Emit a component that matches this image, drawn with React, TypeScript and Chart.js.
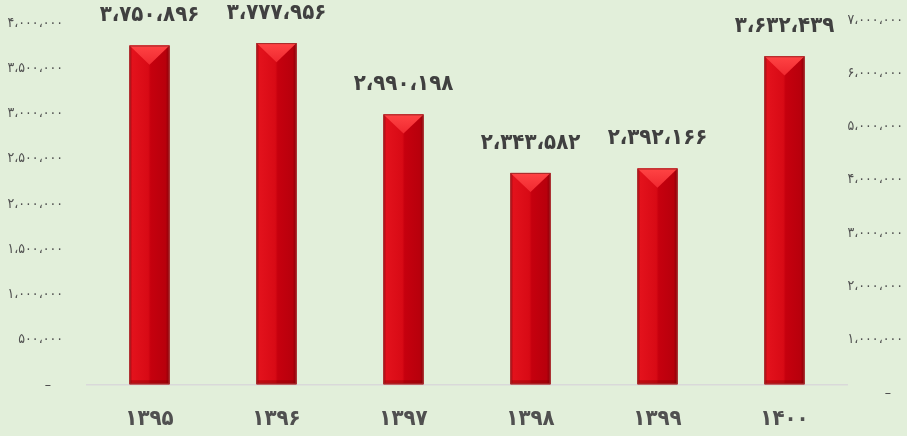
import React, { useEffect, useRef } from "react";
import { Chart, registerables } from "chart.js";

Chart.register(...registerables);

const categories = ["۱۳۹۵", "۱۳۹۶", "۱۳۹۷", "۱۳۹۸", "۱۳۹۹", "۱۴۰۰"];
const values = [3750896, 3777956, 2990198, 2343582, 2392166, 3632439];
const leftTicks = [0, 500000, 1000000, 1500000, 2000000, 2500000, 3000000, 3500000, 4000000];
const rightTicks = [0, 1000000, 2000000, 3000000, 4000000, 5000000, 6000000, 7000000];

const FA_DIGITS = "۰۱۲۳۴۵۶۷۸۹";
function fa(n: number): string {
  return Math.round(n)
    .toString()
    .replace(/\B(?=(\d{3})+(?!\d))/g, "،")
    .replace(/\d/g, (d) => FA_DIGITS[+d]);
}
function tickLabel(v: number): string {
  return v === 0 ? "–   " : fa(v);
}

const FONT = "'DejaVu Sans Condensed', 'DejaVu Sans', sans-serif";

const barStylePlugin = {
  id: "barStyle",
  afterDatasetsDraw(chart: any) {
    const ctx = chart.ctx;
    const meta = chart.getDatasetMeta(0);
    meta.data.forEach((el: any, i: number) => {
      const { x, y, base, width } = el.getProps(["x", "y", "base", "width"], true);
      const l = x - width / 2;
      const r = x + width / 2;
      const t = y;
      const b = base;
      ctx.save();
      const g = ctx.createLinearGradient(l, 0, r, 0);
      g.addColorStop(0, "#a0000c");
      g.addColorStop(0.07, "#e3121c");
      g.addColorStop(0.47, "#d80a15");
      g.addColorStop(0.53, "#c6000e");
      g.addColorStop(0.9, "#b8000c");
      g.addColorStop(1, "#8a0008");
      ctx.fillStyle = g;
      ctx.fillRect(l, t, width, b - t);
      const h = width * 0.48;
      const tg = ctx.createLinearGradient(0, t, 0, t + h);
      tg.addColorStop(0, "#ff4444");
      tg.addColorStop(1, "#f02830");
      ctx.fillStyle = tg;
      ctx.beginPath();
      ctx.moveTo(l, t);
      ctx.lineTo(r, t);
      ctx.lineTo(x, t + h);
      ctx.closePath();
      ctx.fill();
      ctx.fillStyle = "rgba(110,0,0,0.3)";
      ctx.fillRect(l, b - 4, width, 4);
      ctx.strokeStyle = "#a52a2a";
      ctx.lineWidth = 1;
      ctx.strokeRect(l + 0.5, t + 0.5, width - 1, b - t - 1);
      ctx.fillStyle = "#404040";
      ctx.font = `bold 22px ${FONT}`;
      ctx.textAlign = "center";
      ctx.textBaseline = "middle";
      ctx.fillText(fa(values[i]), x, t - 30);
      ctx.restore();
    });
  },
};

export default function App() {
  const ref = useRef<HTMLCanvasElement | null>(null);
  useEffect(() => {
    if (!ref.current) return;
    const chart = new Chart(ref.current, {
      type: "bar",
      data: {
        labels: categories,
        datasets: [
          {
            data: values,
            yAxisID: "y",
            backgroundColor: "#d00010",
            borderWidth: 0,
            barPercentage: 0.315,
            categoryPercentage: 1,
          },
        ],
      },
      options: {
        animation: false,
        responsive: true,
        maintainAspectRatio: false,
        layout: { padding: { top: 20, right: 4, left: 0, bottom: 0 } },
        plugins: { legend: { display: false }, tooltip: { enabled: false } },
        scales: {
          x: {
            grid: { display: false },
            border: { display: false },
            ticks: {
              color: "#505050",
              font: { family: FONT, size: 22, weight: "bold" },
              padding: 5,
            },
            afterFit(scale: any) {
              scale.height = 43;
              scale.paddingLeft = 0;
              scale.paddingRight = 0;
            },
          },
          y: {
            position: "left",
            min: -88398,
            max: 4033149,
            afterBuildTicks(scale: any) {
              scale.ticks = leftTicks.map((v) => ({ value: v }));
            },
            grid: {
              drawTicks: false,
              color: (c: any) => (c.tick && c.tick.value === 0 ? "#d9d9d9" : "rgba(0,0,0,0)"),
              lineWidth: 1.5,
            },
            border: { display: false },
            ticks: {
              color: "#505050",
              font: { family: FONT, size: 14 },
              padding: 23,
              callback: (v: any) => tickLabel(Number(v)),
            },
            afterFit(scale: any) {
              scale.width = 86;
              scale.paddingTop = 0;
              scale.paddingBottom = 0;
            },
          },
          y2: {
            position: "right",
            min: 0,
            max: 7000000,
            afterBuildTicks(scale: any) {
              scale.ticks = rightTicks.map((v) => ({ value: v }));
            },
            grid: { display: false, drawTicks: false },
            border: { display: false },
            ticks: {
              color: "#505050",
              font: { family: FONT, size: 14 },
              crossAlign: "far",
              callback: (v: any) => tickLabel(Number(v)),
            },
            afterFit(scale: any) {
              scale.width = 55;
              scale.paddingTop = 0;
              scale.paddingBottom = 0;
            },
          },
        },
      },
      plugins: [barStylePlugin],
    });
    return () => chart.destroy();
  }, []);
  return (
    <div
      style={{
        position: "fixed",
        left: 0,
        top: 0,
        width: 907,
        height: 436,
        background: "#e2efda",
      }}
    >
      <canvas ref={ref} />
    </div>
  );
}
